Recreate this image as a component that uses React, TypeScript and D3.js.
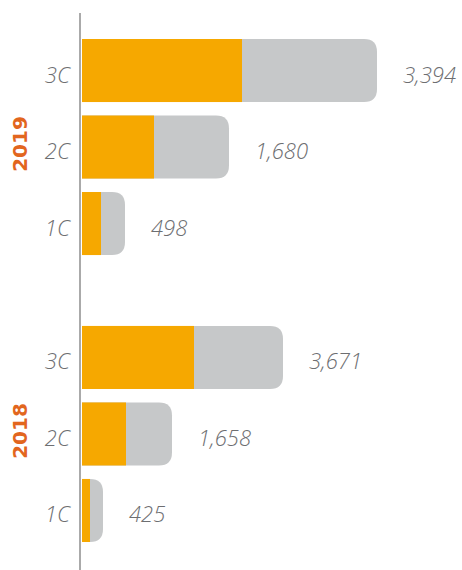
import React from "react";
import * as d3 from "d3";

const years = ["2019", "2018"];
const categories = ["3C", "2C", "1C"];
// bar segments (relative units) per year, ordered like categories
const orange2019 = [160, 72, 19];
const gray2019 = [135, 75, 24];
const orange2018 = [112, 44, 8];
const gray2018 = [89, 46, 13];
const labels2019 = ["3,394", "1,680", "498"];
const labels2018 = ["3,671", "1,658", "425"];

const W = 462;
const H = 570;

function rightRounded(x0: number, x1: number, y: number, h: number, r: number) {
  const rr = Math.min(r, x1 - x0, h / 2);
  return `M${x0},${y}H${x1 - rr}Q${x1},${y} ${x1},${y + rr}V${y + h - rr}Q${x1},${y + h} ${x1 - rr},${y + h}H${x0}Z`;
}

export default function App() {
  const x = d3.scaleLinear().domain([0, 300]).range([82, 382]);
  const outer = d3.scaleBand().domain(years).range([39, 542]).paddingInner(0.247).paddingOuter(0);
  const inner = d3.scaleBand().domain(categories).range([0, outer.bandwidth()]).paddingInner(0.176).paddingOuter(0);

  const data = [
    { year: "2019", orange: orange2019, gray: gray2019, labels: labels2019 },
    { year: "2018", orange: orange2018, gray: gray2018, labels: labels2018 },
  ];

  const textColor = "#6d6e71";
  const font = "'Open Sans', 'Liberation Sans', sans-serif";

  return (
    <svg width={W} height={H} style={{ position: "absolute", left: 0, top: 0 }}>
      <rect width={W} height={H} fill="#fff" />
      {data.map((g) => {
        const gy = outer(g.year)!;
        return (
          <g key={g.year}>
            {categories.map((c, i) => {
              const y = gy + inner(c)!;
              const h = inner.bandwidth();
              const oEnd = x(g.orange[i]);
              const tEnd = x(g.orange[i] + g.gray[i]);
              return (
                <g key={c}>
                  <path d={rightRounded(x(0), tEnd, y, h, 13)} fill="#c6c8c9" />
                  <rect x={x(0)} y={y} width={oEnd - x(0)} height={h} fill="#f6a800" />
                  <text
                    x={70}
                    y={y + h / 2 + 3}
                    textAnchor="end"
                    dominantBaseline="central"
                    fontFamily={font}
                    fontStyle="italic"
                    fontWeight={300}
                    fontSize={22}
                    fill={textColor}
                  >
                    {c}
                  </text>
                  <text
                    x={tEnd + 26}
                    y={y + h / 2 + 3}
                    dominantBaseline="central"
                    fontFamily={font}
                    fontStyle="italic"
                    fontWeight={300}
                    fontSize={22}
                    fill={textColor}
                  >
                    {g.labels[i]}
                  </text>
                </g>
              );
            })}
            <text
              transform={`translate(27,${gy + inner("2C")! + inner.bandwidth() / 2 - 3}) rotate(-90)`}
              textAnchor="middle"
              fontFamily="'DejaVu Sans', sans-serif"
              fontWeight="bold"
              fontSize={20}
              fill="#e2661e"
            >
              {g.year}
            </text>
          </g>
        );
      })}
      <line x1={80} x2={80} y1={13} y2={H} stroke="#aaaaaa" strokeWidth={2} />
    </svg>
  );
}
